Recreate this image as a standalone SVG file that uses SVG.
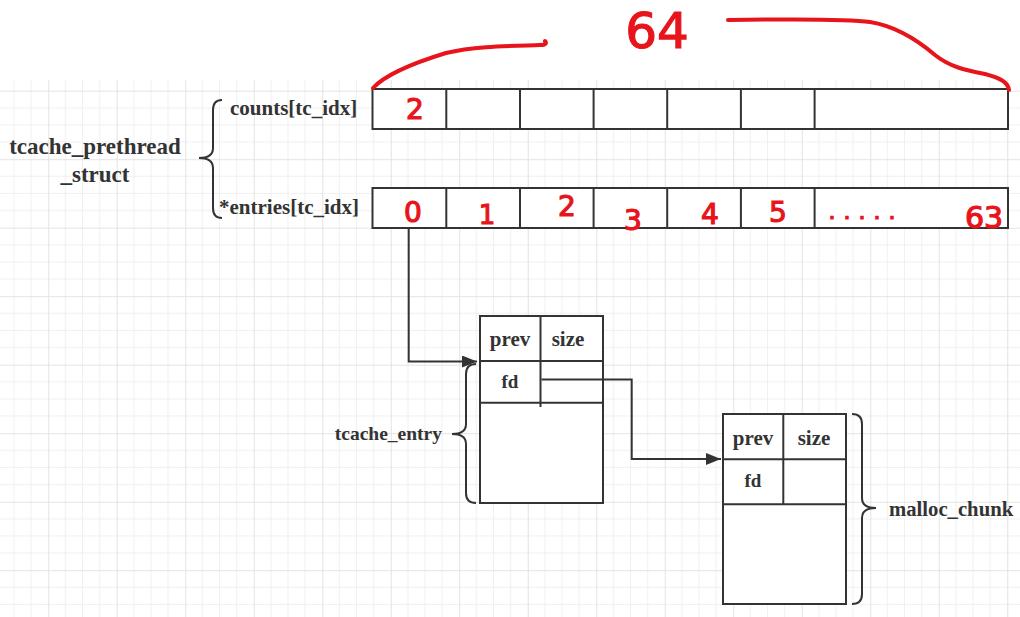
<svg xmlns="http://www.w3.org/2000/svg" width="1020" height="617" viewBox="0 0 1020 617">
<defs>
<pattern id="grid" patternUnits="userSpaceOnUse" x="-20.25" y="22.2" width="68.5" height="68.5">
<path d="M17.125,0V68.5M34.25,0V68.5M51.375,0V68.5M0,17.125H68.5M0,34.25H68.5M0,51.375H68.5" stroke="#f0f0f0" stroke-width="1" fill="none"/>
<path d="M0.5,0V68.5M0,0.5H68.5" stroke="#e3e3e3" stroke-width="1" fill="none"/>
</pattern>
<marker id="arr" markerWidth="16" markerHeight="12" refX="15" refY="6" orient="auto" markerUnits="userSpaceOnUse">
<path d="M0,0L15,6L0,12Z" fill="#333"/>
</marker>
<style>
.box{fill:#fff;stroke:#333;stroke-width:2}
.ln{fill:none;stroke:#333;stroke-width:2}
.lbl{font-family:"Liberation Serif","Times New Roman",serif;font-weight:bold;font-size:21px;fill:#333}
.mid{text-anchor:middle}
.red{font-family:"DejaVu Sans","Liberation Sans",sans-serif;fill:#e8141c;stroke:#e8141c;stroke-width:1.2;text-anchor:middle}
.rl{fill:none;stroke:#e8141c;stroke-width:4;stroke-linecap:round;stroke-linejoin:round}
</style>
</defs>
<rect x="0" y="0" width="1020" height="617" fill="#fff"/>
<rect x="0" y="80" width="1020" height="537" fill="url(#grid)"/>

<g id="struct-label">
<text class="lbl mid" x="95" y="154" style="font-size:23px">tcache_prethread</text>
<text class="lbl mid" x="95" y="182" style="font-size:23px">_struct</text>
<path class="ln" d="M222,100Q213,100 213,110L213,148Q213,158 199,158Q213,158 213,168L213,208Q213,218 222,218"/>
</g>

<g id="counts">
<text class="lbl" x="230" y="115" style="font-size:21px">counts[tc_idx]</text>
<rect class="box" x="372.5" y="89" width="635.5" height="40"/>
<path class="ln" d="M446.3,89V129M520,89V129M593.6,89V129M667.2,89V129M740.9,89V129M814.6,89V129"/>
<text class="red" x="415" y="119" font-size="28">2</text>
</g>

<g id="entries">
<text class="lbl" x="219" y="214" style="font-size:21px">*entries[tc_idx]</text>
<rect class="box" x="372.5" y="188" width="635.5" height="40"/>
<path class="ln" d="M446.3,188V228M520,188V228M593.6,188V228M667.2,188V228M740.9,188V228M814.6,188V228"/>
<text class="red" x="413" y="222" font-size="28">0</text>
<text class="red" x="487" y="224" font-size="26">1</text>
<text class="red" x="567" y="216" font-size="28">2</text>
<text class="red" x="633" y="230" font-size="28">3</text>
<text class="red" x="710" y="224" font-size="28">4</text>
<text class="red" x="778" y="222" font-size="28">5</text>
<text class="red" x="866" y="219" font-size="22" style="letter-spacing:8px">.....</text>
<text class="red" x="984" y="228" font-size="30">63</text>
</g>

<g id="size-annotation">
<path class="rl" d="M373,88C385,75 410,64 446,53C475,46 510,46 540,45C546,45 547,43 545,41"/>
<path class="rl" d="M728,20C790,19 850,19 870,22C895,26 915,38 935,55C950,67 965,70 985,74C1000,78 1008,82 1009,90"/>
<text class="red" x="657" y="48" font-size="50">64</text>
</g>

<g id="tcache_entry">
<rect class="box" x="480" y="316" width="123" height="187"/>
<path class="ln" d="M480,361H603M480,402.7H603M540.5,316V407"/>
<text class="lbl mid" x="510" y="346">prev</text>
<text class="lbl mid" x="568" y="346">size</text>
<text class="lbl mid" x="510" y="388" style="font-size:19px">fd</text>
<text class="lbl" x="442" y="440" style="font-size:19.5px;text-anchor:end">tcache_entry</text>
<path class="ln" d="M476,364Q466,364 466,374L466,424Q466,434 452,434Q466,434 466,444L466,493Q466,503 476,503"/>
</g>

<g id="malloc_chunk">
<rect class="box" x="723" y="414" width="123" height="190"/>
<path class="ln" d="M723,459.3H846M723,504.3H846M783.3,414V504.3"/>
<text class="lbl mid" x="753" y="445">prev</text>
<text class="lbl mid" x="814" y="445">size</text>
<text class="lbl mid" x="753" y="487" style="font-size:19px">fd</text>
<path class="ln" d="M852,414Q862,414 862,424L862,498Q862,508 876,508Q862,508 862,518L862,594Q862,604 852,604"/>
<text class="lbl" x="889" y="516" style="font-size:20.7px">malloc_chunk</text>
</g>

<g id="connectors">
<path class="ln" d="M408.7,228V361.5H477" marker-end="url(#arr)"/>
<path class="ln" d="M541.5,379.5H631.7V459H721" marker-end="url(#arr)"/>
</g>
</svg>
